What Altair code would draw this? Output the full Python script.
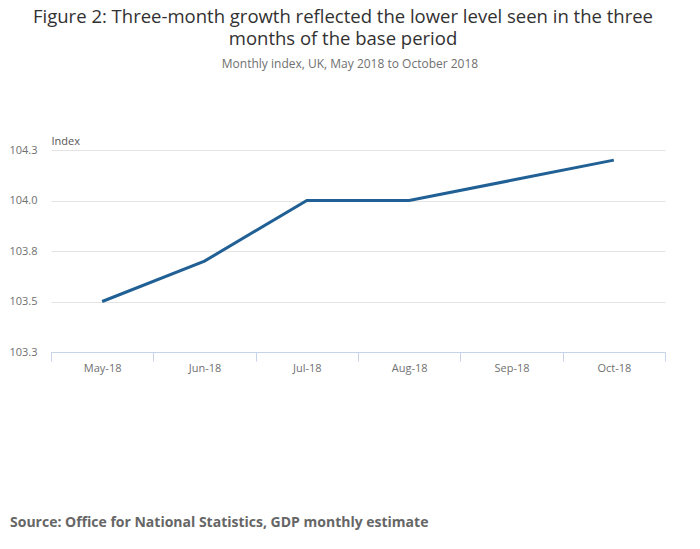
import altair as alt
import pandas as pd

months = ["May-18", "Jun-18", "Jul-18", "Aug-18", "Sep-18", "Oct-18"]
index_values = [103.5, 103.7, 104.0, 104.0, 104.1, 104.2]
y_ticks = [103.25, 103.5, 103.75, 104.0, 104.25]

title_lines = ["Figure 2: Three-month growth reflected the lower level seen in the three", "months of the base period"]
subtitle_text = ["Monthly index, UK, May 2018 to October 2018"]
source_text = ["Source: Office for National Statistics, GDP monthly estimate"]

df = pd.DataFrame({"month": months, "value": index_values})

FONT = "Open Sans"

line = alt.Chart(df).mark_line(color="#206095", strokeWidth=3).encode(
    x=alt.X(
        "month:N",
        sort=months,
        bandPosition=0.5,
        scale=alt.Scale(type="band", paddingInner=0, paddingOuter=0),
        axis=alt.Axis(
            title=None,
            labelAngle=0,
            tickBand="extent",
            domainColor="#c6d3e8",
            tickColor="#c6d3e8",
            tickSize=9,
            labelPadding=1,
            labelFont=FONT,
            labelFontSize=11,
            labelColor="#707070",
            grid=False,
        ),
    ),
    y=alt.Y(
        "value:Q",
        scale=alt.Scale(domain=[103.25, 104.25], zero=False, nice=False),
        axis=alt.Axis(
            values=y_ticks,
            format=".1f",
            title="Index",
            titleAngle=0,
            titleX=0,
            titleY=-4,
            titleAlign="left",
            titleBaseline="bottom",
            titleFont=FONT,
            titleFontSize=11,
            titleFontWeight="normal",
            titleColor="#555555",
            domain=False,
            ticks=False,
            labelPadding=14,
            labelFont=FONT,
            labelFontSize=11,
            labelColor="#707070",
            gridColor="#e4e4e4",
        ),
    ),
)

subtitle = alt.Chart(pd.DataFrame({"t": subtitle_text})).mark_text(
    align="center", baseline="middle", font=FONT, fontSize=12, color="#707070"
).encode(text="t:N", x=alt.value(299), y=alt.value(-86))

source = alt.Chart(pd.DataFrame({"t": source_text})).mark_text(
    align="left", baseline="alphabetic", font=FONT, fontSize=14, fontWeight="bold", color="#666666"
).encode(text="t:N", x=alt.value(-41), y=alt.value(377))

chart = alt.layer(line, subtitle, source).properties(
    width=614,
    height=202,
    autosize=alt.AutoSizeParams(type="none"),
    padding={"left": 43, "top": 142, "right": 27, "bottom": 180},
    title=alt.TitleParams(
        text=title_lines,
        anchor="middle",
        dx=-15,
        offset=10,
        font=FONT,
        fontSize=18.5,
        fontWeight="normal",
        color="#323132",
        lineHeight=21.5,
    ),
).configure_view(stroke=None)

chart.save("out.html", embed_options={"renderer": "svg", "actions": False})
